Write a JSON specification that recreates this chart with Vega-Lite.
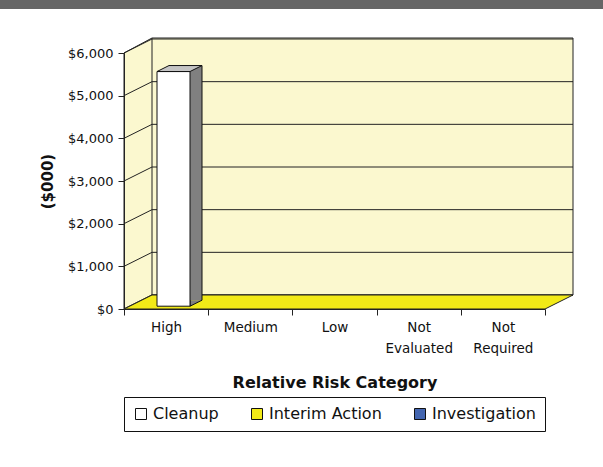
{
  "$schema": "https://vega.github.io/schema/vega-lite/v6.json",
  "width": 421,
  "height": 256,
  "autosize": {"type": "none"},
  "padding": {"left": 124, "top": 53, "right": 58, "bottom": 158},
  "background": "#ffffff",
  "config": {
    "view": {"stroke": null},
    "font": "DejaVu Sans"
  },
  "datasets": {
    "costs": [
      {"category": "High", "series": "Cleanup", "value": 5500},
      {"category": "High", "series": "Interim Action", "value": 0},
      {"category": "High", "series": "Investigation", "value": 0},
      {"category": "Medium", "series": "Cleanup", "value": 0},
      {"category": "Medium", "series": "Interim Action", "value": 0},
      {"category": "Medium", "series": "Investigation", "value": 0},
      {"category": "Low", "series": "Cleanup", "value": 0},
      {"category": "Low", "series": "Interim Action", "value": 0},
      {"category": "Low", "series": "Investigation", "value": 0},
      {"category": "Not Evaluated", "series": "Cleanup", "value": 0},
      {"category": "Not Evaluated", "series": "Interim Action", "value": 0},
      {"category": "Not Evaluated", "series": "Investigation", "value": 0},
      {"category": "Not Required", "series": "Cleanup", "value": 0},
      {"category": "Not Required", "series": "Interim Action", "value": 0},
      {"category": "Not Required", "series": "Investigation", "value": 0}
    ],
    "ticks": [
      {"tick": 0}, {"tick": 1000}, {"tick": 2000}, {"tick": 3000},
      {"tick": 4000}, {"tick": 5000}, {"tick": 6000}
    ],
    "one": [{}]
  },
  "layer": [
    {
      "description": "page header band",
      "data": {"name": "one"},
      "mark": {"type": "point", "shape": "M-166.1,-309H436.9V-300H-166.1Z", "size": 4, "filled": true, "fill": "#666666", "strokeWidth": 0, "opacity": 1},
      "encoding": {
        "x": {"datum": "High", "type": "nominal"},
        "y": {"datum": 0, "type": "quantitative"}
      }
    },
    {
      "description": "side and back walls of the 3-D box",
      "data": {"name": "one"},
      "mark": {"type": "point", "shape": "M-42.1,-256L-14.1,-271L406.9,-271L406.9,-14L-14.1,-14L-42.1,0ZM-14.1,-271V-14", "size": 4, "filled": true, "fill": "#FBF8CF", "stroke": "#222222", "strokeWidth": 1, "opacity": 1},
      "encoding": {
        "x": {"datum": "High", "type": "nominal"},
        "y": {"datum": 0, "type": "quantitative"}
      }
    },
    {
      "description": "gridlines running across the side wall and along the back wall",
      "data": {"name": "ticks"},
      "mark": {"type": "point", "shape": "M-42.1,0L-14.1,-14L406.9,-14", "size": 4, "filled": false, "stroke": "#222222", "strokeWidth": 1, "opacity": 1},
      "encoding": {
        "x": {"datum": "High", "type": "nominal"},
        "y": {"field": "tick", "type": "quantitative"}
      }
    },
    {
      "description": "floor",
      "data": {"name": "one"},
      "mark": {"type": "point", "shape": "M-42.1,0L378.9,0L406.9,-14L-14.1,-14Z", "size": 4, "filled": true, "fill": "#F2EA17", "stroke": "#222222", "strokeWidth": 1, "opacity": 1},
      "encoding": {
        "x": {"datum": "High", "type": "nominal"},
        "y": {"datum": 0, "type": "quantitative"}
      }
    },
    {
      "description": "column side face",
      "data": {"name": "costs"},
      "transform": [{"filter": "datum.value > 0"}],
      "mark": {"type": "bar", "width": 33, "xOffset": 19.4, "yOffset": -8.8, "y2Offset": -8.8, "fill": "#808080", "strokeWidth": 0},
      "encoding": {
        "x": {"field": "category", "type": "nominal"},
        "y": {"field": "value", "type": "quantitative"},
        "y2": {"datum": 0}
      }
    },
    {
      "description": "lower corner of the column side face",
      "data": {"name": "costs"},
      "transform": [{"filter": "datum.value > 0"}],
      "mark": {"type": "point", "shape": "M35.9,-8.8L23.9,-2.8L23.9,-8.8", "size": 4, "filled": true, "fill": "#808080", "stroke": "#111111", "strokeWidth": 1, "opacity": 1},
      "encoding": {
        "x": {"field": "category", "type": "nominal"},
        "y": {"datum": 0, "type": "quantitative"}
      }
    },
    {
      "description": "back edge of the column side face",
      "data": {"name": "costs"},
      "transform": [{"filter": "datum.value > 0"}],
      "mark": {"type": "rule", "xOffset": 35.9, "yOffset": -8.8, "y2Offset": -8.8, "stroke": "#111111", "strokeWidth": 1},
      "encoding": {
        "x": {"field": "category", "type": "nominal"},
        "y": {"field": "value", "type": "quantitative"},
        "y2": {"datum": 0}
      }
    },
    {
      "description": "column front face, coloured by series",
      "data": {"name": "costs"},
      "transform": [{"filter": "datum.value > 0"}],
      "mark": {"type": "bar", "width": 33, "xOffset": 7.4, "yOffset": -2.8, "y2Offset": -2.8, "stroke": "#111111", "strokeWidth": 1},
      "encoding": {
        "x": {
          "field": "category",
          "type": "nominal",
          "sort": null,
          "scale": {"domain": ["High", "Medium", "Low", "Not Evaluated", "Not Required"], "paddingInner": 0, "paddingOuter": 0},
          "axis": {
            "title": "Relative Risk Category",
            "titleFont": "DejaVu Sans",
            "titleFontSize": 16,
            "titleFontWeight": "bold",
            "titleColor": "#111111",
            "titlePadding": 20,
            "labelAngle": 0,
            "labelAlign": "center",
            "labelFont": "DejaVu Sans",
            "labelFontSize": 13.5,
            "labelColor": "#111111",
            "labelPadding": 12,
            "labelLineHeight": 21,
            "labelExpr": "split(datum.label, ' ')",
            "tickBand": "extent",
            "tickSize": 6,
            "tickColor": "#222222",
            "domainColor": "#222222",
            "zindex": 2
          }
        },
        "y": {
          "field": "value",
          "type": "quantitative",
          "stack": null,
          "scale": {"domain": [0, 6000], "nice": false},
          "axis": {
            "title": "($000)",
            "titleFont": "DejaVu Sans",
            "titleFontSize": 15,
            "titleFontWeight": "bold",
            "titleColor": "#111111",
            "titlePadding": 12,
            "values": [0, 1000, 2000, 3000, 4000, 5000, 6000],
            "format": "$,.0f",
            "labelFont": "DejaVu Sans",
            "labelFontSize": 13,
            "labelColor": "#111111",
            "labelPadding": 5,
            "tickSize": 6,
            "tickColor": "#222222",
            "domainColor": "#222222",
            "grid": false,
            "zindex": 2
          }
        },
        "y2": {"datum": 0},
        "color": {
          "field": "series",
          "type": "nominal",
          "scale": {"domain": ["Cleanup", "Interim Action", "Investigation"], "range": ["#FFFFFF", "#F2EA17", "#4466B0"]},
          "legend": {
            "title": null,
            "orient": "none",
            "legendX": 0,
            "legendY": 344,
            "direction": "horizontal",
            "symbolType": "square",
            "symbolSize": 121,
            "symbolStrokeColor": "#111111",
            "symbolStrokeWidth": 1,
            "symbolOpacity": 1,
            "labelFont": "DejaVu Sans",
            "labelFontSize": 16,
            "labelColor": "#111111",
            "labelOffset": 4,
            "columnPadding": 30,
            "padding": 9,
            "strokeColor": "#111111",
            "fillColor": "#ffffff",
            "cornerRadius": 0
          }
        }
      }
    },
    {
      "description": "column top face",
      "data": {"name": "costs"},
      "transform": [{"filter": "datum.value > 0"}],
      "mark": {"type": "point", "shape": "M-9.1,-2.8L23.9,-2.8L35.9,-8.8L2.9,-8.8Z", "size": 4, "filled": true, "fill": "#C4C4C4", "stroke": "#111111", "strokeWidth": 1, "opacity": 1},
      "encoding": {
        "x": {"field": "category", "type": "nominal"},
        "y": {"field": "value", "type": "quantitative"}
      }
    }
  ]
}
